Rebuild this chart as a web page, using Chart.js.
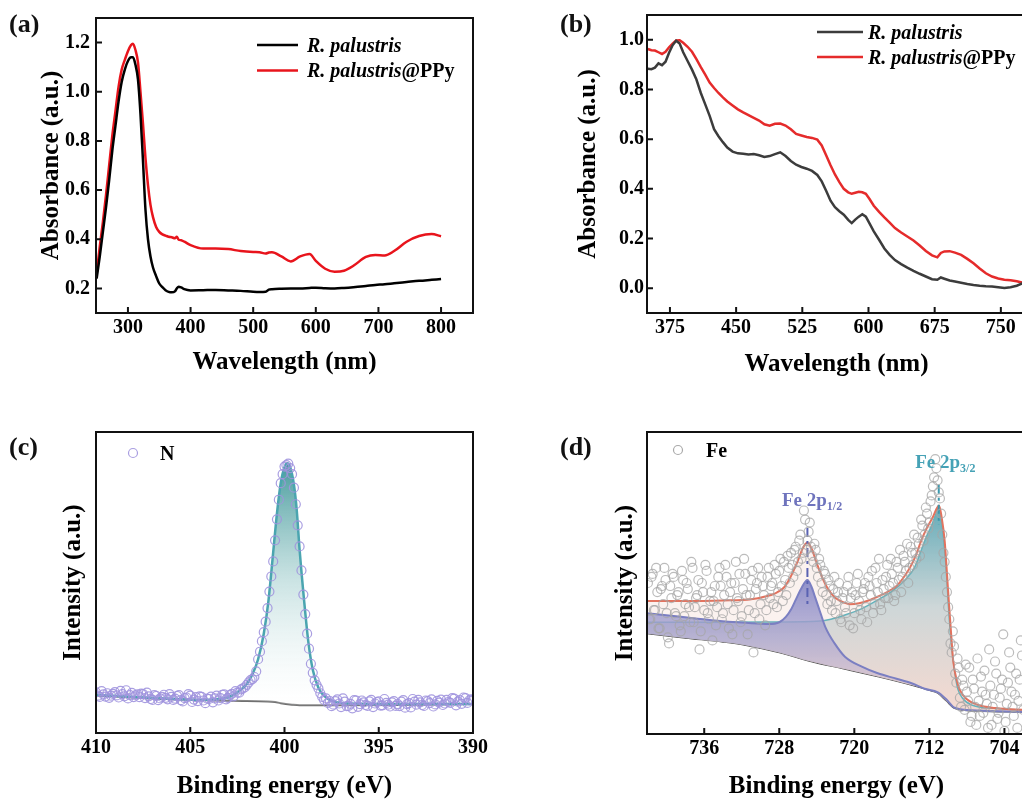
<!DOCTYPE html>
<html>
<head>
<meta charset="utf-8">
<script src="https://cdn.jsdelivr.net/npm/chart.js@4.4.1/dist/chart.umd.min.js"></script>
<style>
  body { margin: 0; width: 1022px; height: 803px; overflow: hidden; background: #fff; position: relative; font-family: "Liberation Serif", serif; }
  canvas { position: absolute; }
  .tag { position: absolute; font-weight: bold; font-size: 26px; line-height: 1; color: #111; }
</style>
</head>
<body>
<canvas id="graph-a" width="511" height="400" style="left:0;top:0"></canvas>
<canvas id="graph-b" width="525" height="400" style="left:511px;top:0"></canvas>
<canvas id="graph-c" width="511" height="403" style="left:0;top:400px"></canvas>
<canvas id="graph-d" width="525" height="403" style="left:511px;top:400px"></canvas>
<div class="tag" style="left:9px;top:11px">(a)</div>
<div class="tag" style="left:560px;top:11px">(b)</div>
<div class="tag" style="left:9px;top:434px">(c)</div>
<div class="tag" style="left:560px;top:434px">(d)</div>
<script>
// (a) UV-vis absorbance
const aWave = [250, 255, 260, 265, 270, 275, 280, 285, 290, 295, 300, 305, 308, 312, 316, 320, 324, 328, 332, 336,
  340, 345, 350, 355, 360, 365, 370, 375, 378, 381, 385, 390, 400, 420, 440, 460, 480, 500, 510, 520,
  525, 530, 545, 560, 575, 590, 600, 615, 630, 645, 660, 680, 695, 710, 725, 745, 765, 785, 800];
const aBare = [0.24, 0.33, 0.43, 0.53, 0.64, 0.76, 0.86, 0.96, 1.04, 1.09, 1.125, 1.14, 1.14, 1.11, 1.05, 0.91, 0.72, 0.52, 0.40, 0.33,
  0.285, 0.25, 0.22, 0.205, 0.193, 0.186, 0.184, 0.188, 0.2, 0.207, 0.204, 0.197, 0.192, 0.193, 0.194, 0.192, 0.19, 0.186, 0.185, 0.186,
  0.195, 0.197, 0.199, 0.2, 0.2, 0.202, 0.203, 0.201, 0.2, 0.202, 0.205, 0.21, 0.214, 0.217, 0.221, 0.226, 0.231, 0.235, 0.238];
const aPPy = [0.26, 0.37, 0.47, 0.58, 0.70, 0.82, 0.92, 1.02, 1.09, 1.13, 1.165, 1.19, 1.195, 1.17, 1.12, 1.0, 0.87, 0.73, 0.62, 0.54,
  0.49, 0.45, 0.43, 0.42, 0.415, 0.41, 0.408, 0.404, 0.41, 0.398, 0.396, 0.39, 0.376, 0.362, 0.362, 0.36, 0.352, 0.348, 0.347, 0.342,
  0.346, 0.347, 0.33, 0.31, 0.33, 0.34, 0.312, 0.28, 0.268, 0.272, 0.292, 0.328, 0.336, 0.334, 0.352, 0.39, 0.413, 0.421, 0.412];
const aXTicks = [300, 400, 500, 600, 700, 800];
const aYTicks = [0.2, 0.4, 0.6, 0.8, 1.0, 1.2];

// (b) normalised absorbance
const bWave = [350, 354, 358, 362, 366, 370, 374, 378, 382, 386, 390, 395, 400, 405, 410, 415, 420, 425, 430, 435,
  440, 446, 452, 458, 464, 470, 476, 482, 488, 494, 500, 506, 512, 518, 524, 530, 536, 542, 547, 552,
  557, 562, 567, 572, 577, 581, 585, 589, 593, 597, 601, 606, 612, 618, 624, 630, 637, 644, 651, 658,
  665, 672, 678, 682, 686, 692, 698, 705, 712, 719, 726, 733, 740, 747, 754, 761, 768, 775];
const bBare = [0.884, 0.882, 0.888, 0.905, 0.898, 0.912, 0.948, 0.978, 0.996, 0.985, 0.95, 0.915, 0.88, 0.84, 0.786, 0.74, 0.694, 0.64, 0.612, 0.588,
  0.566, 0.55, 0.543, 0.541, 0.538, 0.54, 0.535, 0.528, 0.532, 0.54, 0.547, 0.532, 0.512, 0.497, 0.488, 0.481, 0.472, 0.456, 0.43, 0.392,
  0.352, 0.326, 0.31, 0.296, 0.275, 0.262, 0.276, 0.288, 0.298, 0.288, 0.262, 0.229, 0.195, 0.16, 0.134, 0.113, 0.097, 0.083, 0.07, 0.058,
  0.047, 0.036, 0.034, 0.043, 0.038, 0.031, 0.027, 0.022, 0.017, 0.013, 0.01, 0.008, 0.007, 0.004, 0.001, 0.004, 0.01, 0.02];
const bPPy = [0.963, 0.958, 0.957, 0.95, 0.943, 0.952, 0.97, 0.985, 0.997, 0.998, 0.988, 0.972, 0.952, 0.922, 0.89, 0.86, 0.828, 0.806, 0.786, 0.768,
  0.752, 0.736, 0.72, 0.708, 0.697, 0.686, 0.675, 0.66, 0.654, 0.662, 0.663, 0.655, 0.64, 0.621, 0.615, 0.609, 0.605, 0.598, 0.575, 0.535,
  0.495, 0.458, 0.427, 0.4, 0.386, 0.38, 0.384, 0.388, 0.386, 0.38, 0.36, 0.332, 0.307, 0.285, 0.264, 0.242, 0.224, 0.208, 0.192, 0.172,
  0.15, 0.132, 0.124, 0.142, 0.148, 0.149, 0.143, 0.134, 0.118, 0.1, 0.079, 0.06, 0.047, 0.039, 0.034, 0.032, 0.028, 0.022];
const bXTicks = [375, 450, 525, 600, 675, 750];
const bYTicks = [0.0, 0.2, 0.4, 0.6, 0.8, 1.0];

// (c) N 1s
const nEnergy = [410, 409.8, 409.6, 409.4, 409.2, 409, 408.8, 408.6, 408.4, 408.2,
  408, 407.8, 407.6, 407.4, 407.2, 407, 406.8, 406.6, 406.4, 406.2,
  406, 405.8, 405.6, 405.4, 405.2, 405, 404.8, 404.6, 404.4, 404.2,
  404, 403.8, 403.6, 403.4, 403.2, 403, 402.8, 402.6, 402.4, 402.2,
  402, 401.8, 401.6, 401.4, 401.2, 401, 400.8, 400.6, 400.4, 400.2,
  400, 399.8, 399.6, 399.4, 399.2, 399, 398.8, 398.6, 398.4, 398.2,
  398, 397.8, 397.6, 397.4, 397.2, 397, 396.8, 396.6, 396.4, 396.2,
  396, 395.8, 395.6, 395.4, 395.2, 395, 394.8, 394.6, 394.4, 394.2,
  394, 393.8, 393.6, 393.4, 393.2, 393, 392.8, 392.6, 392.4, 392.2,
  392, 391.8, 391.6, 391.4, 391.2, 391, 390.8, 390.6, 390.4, 390.2, 390];
const nCounts = [13.5, 12.0, 12.8, 13.2, 12.4, 13.6, 11.8, 12.9, 14.2, 12.6,
  11.9, 12.8, 13.1, 11.6, 12.2, 11.0, 12.3, 11.5, 12.7, 11.2,
  12.0, 11.4, 12.6, 10.5, 11.8, 12.4, 11.1, 10.6, 12.0, 9.9,
  11.3, 10.2, 12.4, 11.6, 12.8, 11.7, 13.0, 13.9, 13.4, 14.8,
  16.0, 17.6, 18.6, 24.5, 30.5, 37.0, 47.0, 57.0, 71.0, 83.0,
  88.5, 89.5, 86.0, 76.0, 62.0, 46.0, 33.0, 23.0, 17.5, 14.8,
  12.0, 11.5, 10.6, 9.4, 11.2, 8.6, 10.4, 9.0, 8.2, 10.8,
  9.6, 10.2, 9.0, 11.0, 9.8, 10.5, 9.2, 10.0, 8.8, 10.6,
  9.6, 10.4, 8.4, 9.9, 11.3, 9.4, 10.2, 9.0, 10.6, 11.2,
  9.5, 10.1, 9.3, 11.0, 10.0, 11.4, 10.4, 9.7, 11.6, 10.8, 11.0];
const nEnergy2 = [409.9, 409.7, 409.5, 409.3, 409.1, 408.9, 408.7, 408.5, 408.3, 408.1,
  407.9, 407.7, 407.5, 407.3, 407.1, 406.9, 406.7, 406.5, 406.3, 406.1,
  405.9, 405.7, 405.5, 405.3, 405.1, 404.9, 404.7, 404.5, 404.3, 404.1,
  403.9, 403.7, 403.5, 403.3, 403.1, 402.9, 402.7, 402.5, 402.3, 402.1,
  401.9, 401.7, 401.5, 401.3, 401.1, 400.9, 400.7, 400.5, 400.3, 400.1,
  399.9, 399.7, 399.5, 399.3, 399.1, 398.9, 398.7, 398.5, 398.3, 398.1,
  397.9, 397.7, 397.5, 397.3, 397.1, 396.9, 396.7, 396.5, 396.3, 396.1,
  395.9, 395.7, 395.5, 395.3, 395.1, 394.9, 394.7, 394.5, 394.3, 394.1,
  393.9, 393.7, 393.5, 393.3, 393.1, 392.9, 392.7, 392.5, 392.3, 392.1,
  391.9, 391.7, 391.5, 391.3, 391.1, 390.9, 390.7, 390.5, 390.3, 390.1];
const nCounts2 = [12.4, 13.9, 12.1, 11.7, 13.0, 12.5, 14.0, 12.2, 11.5, 13.3,
  12.5, 11.9, 12.9, 13.4, 11.3, 12.6, 10.9, 12.0, 11.7, 12.9,
  11.0, 12.3, 10.9, 11.6, 12.9, 10.3, 11.9, 12.2, 10.8, 11.4,
  12.1, 11.5, 10.8, 12.7, 11.2, 12.6, 12.2, 13.4, 14.5, 15.2,
  16.8, 17.9, 20.5, 27.0, 33.5, 41.5, 52.0, 64.0, 77.5, 86.0,
  89.0, 88.0, 81.5, 69.0, 54.0, 39.5, 28.0, 20.0, 16.0, 13.2,
  11.0, 10.0, 8.9, 10.6, 9.8, 11.5, 8.9, 9.7, 10.9, 8.7,
  10.8, 9.3, 10.5, 8.6, 10.3, 9.1, 11.3, 9.4, 10.2, 9.0,
  8.9, 10.9, 9.6, 8.5, 10.4, 11.0, 9.3, 10.8, 9.9, 8.8,
  10.7, 11.1, 9.8, 10.3, 11.6, 9.2, 10.9, 11.8, 10.0, 11.2];
const nFit = [[410, 12.7], [408, 12.0], [406, 11.4], [404.5, 11.0], [403.6, 11.2], [403, 11.8], [402.5, 13.5], [402, 16.3],
  [401.7, 19.5], [401.4, 24.5], [401.1, 33], [400.85, 44], [400.6, 60], [400.4, 73], [400.2, 83], [400, 88.3], [399.85, 89.6],
  [399.7, 88.3], [399.5, 82.5], [399.35, 74], [399.2, 61], [398.96, 44], [398.73, 30], [398.5, 21], [398.2, 15], [397.9, 12.3],
  [397.4, 10.5], [396.5, 9.8], [394, 9.6], [390, 9.6]];
const nBase = [[410, 12.5], [406.25, 11.3], [402.7, 10.7], [400.9, 10.5], [400.5, 10.3], [400.2, 9.9], [399.6, 9.4],
  [399.2, 9.2], [397.4, 9.2], [393, 9.4], [390, 9.6]];
const cXTicks = [410, 405, 400, 395, 390];

// (d) Fe 2p
const feCounts = [[742, 50], [741.75, 38], [741.5, 53], [741.25, 41], [741, 47], [740.75, 35], [740.5, 49], [740.25, 55],
  [740, 40], [739.75, 30], [739.5, 45], [739.25, 52], [739, 39], [738.75, 47], [738.5, 34], [738.25, 51], [738, 43],
  [737.75, 48], [737.5, 37], [737.25, 55], [737, 42], [736.75, 46], [736.5, 28], [736.25, 50], [736, 41], [735.75, 54],
  [735.5, 38], [735.25, 47], [735, 44], [734.75, 36], [734.5, 52], [734.25, 49], [734, 40], [733.75, 56], [733.5, 43],
  [733.25, 47], [733, 33], [732.75, 50], [732.5, 45], [732.25, 53], [732, 39], [731.75, 58], [731.5, 46], [731.25, 41],
  [731, 51], [730.75, 27], [730.5, 48], [730.25, 55], [730, 43], [729.75, 49], [729.5, 36], [729.25, 52], [729, 45],
  [728.75, 50], [728.5, 56], [728.25, 42], [728, 54], [727.75, 49], [727.5, 57], [727.25, 46], [727, 55], [726.75, 60],
  [726.5, 52], [726.25, 62], [726, 57], [725.75, 66], [725.5, 60], [725.25, 71], [725, 64], [724.75, 70], [724.5, 59],
  [724.25, 63], [724, 55], [723.75, 58], [723.5, 50], [723.25, 54], [723, 46], [722.75, 51], [722.5, 44], [722.25, 48],
  [722, 40], [721.75, 47], [721.5, 38], [721.25, 45], [721, 42], [720.75, 49], [720.5, 36], [720.25, 47], [720, 40],
  [719.75, 50], [719.5, 44], [719.25, 38], [719, 48], [718.75, 42], [718.5, 52], [718.25, 46], [718, 40], [717.75, 55],
  [717.5, 47], [717.25, 43], [717, 51], [716.75, 45], [716.5, 56], [716.25, 49], [716, 53], [715.75, 44], [715.5, 57],
  [715.25, 51], [715, 47], [714.75, 59], [714.5, 54], [714.25, 50], [714, 62], [713.75, 56], [713.5, 60], [713.25, 65],
  [713, 59], [712.75, 69], [712.5, 66], [712.25, 73], [712, 70], [711.75, 79], [711.5, 85], [711.25, 88], [711, 80],
  [710.75, 73], [710.5, 60], [710.25, 52], [710, 42], [709.75, 30], [709.5, 34], [709.25, 20], [709, 25], [708.75, 12],
  [708.5, 18], [708.25, 8], [708, 14], [707.75, 22], [707.5, 6], [707.25, 15], [707, 3], [706.75, 11], [706.5, 19],
  [706.25, 7], [706, 13], [705.75, 2], [705.5, 16], [705.25, 9], [705, 24], [704.75, 5], [704.5, 12], [704.25, 18],
  [704, 1], [703.75, 10], [703.5, 27], [703.25, 14], [703, 6], [702.75, 20], [702.5, 11], [702.25, 31], [702, 8]];
const feCounts2 = [[741.875, 38], [741.625, 52], [741.375, 41], [741.125, 55], [740.875, 35], [740.625, 48], [740.375, 43],
  [740.125, 51], [739.875, 32], [739.625, 49], [739.375, 53], [739.125, 40], [738.875, 46], [738.625, 36], [738.375, 54],
  [738.125, 39], [737.875, 50], [737.625, 42], [737.375, 57], [737.125, 37], [736.875, 45], [736.625, 51], [736.375, 34],
  [736.125, 47], [735.875, 56], [735.625, 40], [735.375, 44], [735.125, 31], [734.875, 49], [734.625, 42], [734.375, 55],
  [734.125, 38], [733.875, 46], [733.625, 52], [733.375, 35], [733.125, 50], [732.875, 41], [732.625, 57], [732.375, 44],
  [732.125, 37], [731.875, 48], [731.625, 53], [731.375, 33], [731.125, 46], [730.875, 54], [730.625, 40], [730.375, 50],
  [730.125, 38], [729.875, 52], [729.625, 46], [729.375, 41], [729.125, 55], [728.875, 49], [728.625, 43], [728.375, 53],
  [728.125, 47], [727.875, 58], [727.625, 44], [727.375, 51], [727.125, 59], [726.875, 50], [726.625, 56], [726.375, 61],
  [726.125, 54], [725.875, 64], [725.625, 58], [725.375, 74], [725.125, 61], [724.875, 67], [724.625, 62], [724.375, 57],
  [724.125, 61], [723.875, 52], [723.625, 56], [723.375, 47], [723.125, 53], [722.875, 43], [722.625, 49], [722.375, 41],
  [722.125, 52], [721.875, 44], [721.625, 50], [721.375, 37], [721.125, 47], [720.875, 40], [720.625, 52], [720.375, 45],
  [720.125, 35], [719.875, 46], [719.625, 53], [719.375, 41], [719.125, 47], [718.875, 50], [718.625, 37], [718.375, 49],
  [718.125, 54], [717.875, 43], [717.625, 50], [717.375, 58], [717.125, 41], [716.875, 48], [716.625, 52], [716.375, 45],
  [716.125, 58], [715.875, 50], [715.625, 46], [715.375, 55], [715.125, 61], [714.875, 52], [714.625, 57], [714.375, 63],
  [714.125, 55], [713.875, 60], [713.625, 66], [713.375, 58], [713.125, 63], [712.875, 71], [712.625, 64], [712.375, 75],
  [712.125, 68], [711.875, 77], [711.625, 82], [711.375, 91], [711.125, 84], [710.875, 78], [710.625, 66], [710.375, 57],
  [710.125, 47], [709.875, 38], [709.625, 27], [709.375, 29], [709.125, 17], [708.875, 22], [708.625, 9], [708.375, 16],
  [708.125, 23], [707.875, 11], [707.625, 4], [707.375, 18], [707.125, 9], [706.875, 25], [706.625, 6], [706.375, 14],
  [706.125, 21], [705.875, 10], [705.625, 28], [705.375, 3], [705.125, 13], [704.875, 20], [704.625, 7], [704.375, 15],
  [704.125, 33], [703.875, 4], [703.625, 17], [703.375, 22], [703.125, 9], [702.875, 13], [702.625, 2], [702.375, 18],
  [702.125, 26]];
const feEnvelope = [[742.1, 44], [738, 44], [734, 44.2], [731, 44.6], [729.5, 45.5], [728.5, 46.5], [727.5, 48.5],
  [726.8, 52], [726, 57.5], [725.5, 61.5], [725, 63.4], [724.5, 61], [724, 56.5], [723.3, 51], [722.8, 48], [722, 45],
  [721, 43.4], [720.5, 43], [719.5, 43.3], [718.5, 44.2], [717.5, 45.5], [716.5, 47], [715.5, 49], [714.6, 52.5],
  [714, 55.5], [713.4, 59.5], [712.85, 64.2], [712.3, 68], [711.6, 72], [711.25, 74.5], [710.97, 75.7], [710.7, 72],
  [710.37, 64], [710.1, 52], [709.94, 44.4], [709.7, 34], [709.47, 24.5], [709.1, 18], [708.76, 14.6], [708, 11.5],
  [706.8, 9.6], [705, 8.6], [701.7, 7.9]];
const feP32 = [[742.1, 37], [735, 37], [728, 37.1], [724, 37.3], [722.5, 38], [721, 39.4], [719.2, 41.5], [717.5, 44.4],
  [716, 47.2], [714.6, 51], [713.6, 55], [712.85, 61], [712.3, 65.5], [711.8, 68.8], [711.35, 72.5], [710.97, 75.5],
  [710.7, 70], [710.37, 61], [710.15, 52], [710, 44], [709.75, 33], [709.47, 24.5], [709.2, 18.5], [708.97, 15],
  [708.5, 12], [707.5, 9.6], [705, 8.5], [701.7, 7.8]];
const feP12 = [[742.1, 40], [738.5, 38.8], [735.2, 37.7], [731.5, 36.8], [729.15, 36.4], [728, 37], [727.3, 38.8],
  [726.7, 41.5], [726.25, 44.4], [725.6, 48.5], [725, 51], [724.6, 49], [724.2, 45.5], [723.6, 40], [723.1, 35.5],
  [722.1, 30], [721, 25.6], [719.2, 22.3], [717.5, 20.1], [715.5, 18.3], [713.9, 16.8], [712.5, 15], [711.1, 13.8],
  [710.2, 11.5], [709.3, 8.7], [707, 7.8], [701.7, 7.3]];
const feBackground = [[742.1, 33.3], [738, 31.8], [734, 30.5], [731.7, 29.5], [728, 27], [724.6, 24], [721, 21.5],
  [717.5, 19], [714, 16.3], [711.8, 14.3], [711.1, 13.5], [710.2, 11], [709.3, 8.5], [707, 7.6], [701.7, 7.3]];
const feMarks = { p12: [[725, 68.2], [725, 42.7]], p32: [[711, 82.5], [711, 69.2]] };
const dXTicks = [736, 728, 720, 712, 704];

Chart.defaults.font.family = '"Liberation Serif", "Times New Roman", serif';
Chart.defaults.color = "#000";
Chart.defaults.animation = false;

const pts = (xs, ys) => xs.map((x, i) => ({ x: x, y: ys[i] }));
const pairs = (list) => list.map((p) => ({ x: p[0], y: p[1] }));

// box round the plot plus inward tick marks
const frame = (yTicks) => ({
  id: "frame",
  afterDraw(chart) {
    const { ctx, chartArea: a, scales } = chart;
    ctx.save();
    ctx.strokeStyle = "#111";
    ctx.lineWidth = 2;
    ctx.beginPath();
    scales.x.ticks.forEach((t) => {
      const px = scales.x.getPixelForValue(t.value);
      ctx.moveTo(px, a.bottom);
      ctx.lineTo(px, a.bottom - 6);
    });
    if (yTicks) {
      scales.y.ticks.forEach((t) => {
        const py = scales.y.getPixelForValue(t.value);
        ctx.moveTo(a.left, py);
        ctx.lineTo(a.left + 6, py);
      });
    }
    ctx.stroke();
    ctx.strokeRect(a.left, a.top, a.right - a.left, a.bottom - a.top);
    ctx.restore();
  },
});

// legend entries and peak labels (mixed italic / subscript text)
const notes = (items) => ({
  id: "notes",
  afterDatasetsDraw(chart) {
    const { ctx, scales } = chart;
    ctx.save();
    items.forEach((it) => {
      let x = it.x, y = it.y;
      if (it.at) {
        x = scales.x.getPixelForValue(it.at[0]);
        y = scales.y.getPixelForValue(it.at[1]);
      }
      if (it.line) {
        ctx.strokeStyle = it.line;
        ctx.lineWidth = 2.5;
        ctx.beginPath();
        ctx.moveTo(it.x0, y);
        ctx.lineTo(it.x1, y);
        ctx.stroke();
      }
      if (it.ring) {
        ctx.strokeStyle = it.ring;
        ctx.lineWidth = 1.2;
        ctx.beginPath();
        ctx.arc(it.x0, y, 4.5, 0, Math.PI * 2);
        ctx.stroke();
      }
      const font = (p) => (p.it ? "italic " : "") + "bold " + (p.s || 20) + 'px "Liberation Serif"';
      let w = 0;
      it.parts.forEach((p) => { ctx.font = font(p); w += ctx.measureText(p.t).width; });
      let cx = it.center ? x - w / 2 : x;
      const base = y + (it.s || 20) * 0.33;
      ctx.fillStyle = it.color || "#000";
      ctx.textBaseline = "alphabetic";
      ctx.textAlign = "left";
      it.parts.forEach((p) => {
        ctx.font = font(p);
        ctx.fillText(p.t, cx, base + (p.sub ? 4 : 0));
        cx += ctx.measureText(p.t).width;
      });
    });
    ctx.restore();
  },
});

function vGrad(chart, top, bottom, stops) {
  const { ctx, chartArea, scales } = chart;
  if (!chartArea) return "rgba(0,0,0,0)";
  const g = ctx.createLinearGradient(0, scales.y.getPixelForValue(top), 0, scales.y.getPixelForValue(bottom));
  stops.forEach((s) => g.addColorStop(s[0], s[1]));
  return g;
}

const tickFont = { size: 20, weight: "bold" };
const titleFont = { size: 25, weight: "bold" };
const useTicks = (list) => (s) => { s.ticks = list.map((v) => ({ value: v })); };

function axes(o) {
  return {
    x: {
      type: "linear", min: o.xmin, max: o.xmax, reverse: !!o.rev,
      grid: { display: false, drawTicks: false }, border: { display: false },
      afterBuildTicks: useTicks(o.xticks),
      ticks: { font: tickFont, padding: 3, maxRotation: 0, autoSkip: false },
      title: { display: true, text: o.xtitle, font: titleFont, padding: { top: 0, bottom: o.xtp } },
      afterFit: (s) => { s.height = o.xh; },
    },
    y: {
      min: o.ymin, max: o.ymax,
      grid: { display: false, drawTicks: false }, border: { display: false },
      afterBuildTicks: o.yticks ? useTicks(o.yticks) : undefined,
      ticks: {
        display: !!o.yticks, font: tickFont, padding: o.ypad || 6,
        callback: (v) => v.toFixed(1),
      },
      title: { display: true, text: o.ytitle, font: titleFont, padding: { top: o.ytp, bottom: 0 } },
      afterFit: (s) => { s.width = o.yw; },
    },
  };
}

const lineSet = (label, data, color, width, extra) => Object.assign({
  label: label, data: data, borderColor: color, borderWidth: width, pointRadius: 0,
  fill: false, cubicInterpolationMode: "monotone",
}, extra || {});

// (a)
new Chart(document.getElementById("graph-a").getContext("2d"), {
  type: "line",
  data: {
    datasets: [
      lineSet("R. palustris", pts(aWave, aBare), "#000", 2.5),
      lineSet("R. palustris@PPy", pts(aWave, aPPy), "#e8141c", 2.5),
    ],
  },
  options: {
    responsive: false, events: [],
    layout: { padding: { left: 0, right: 38, top: 10, bottom: 0 } },
    scales: axes({ xmin: 249, xmax: 851, xticks: aXTicks, xtitle: "Wavelength (nm)", xh: 87, xtp: 22,
      ymin: 0.1, ymax: 1.3, yticks: aYTicks, ytitle: "Absorbance (a.u.)", yw: 96, ytp: 37, ypad: 6 }),
    plugins: { legend: { display: false }, tooltip: { enabled: false } },
  },
  plugins: [frame(true), notes([
    { line: "#000", x0: 257, x1: 298, x: 307, y: 45, parts: [{ t: "R. palustris", it: true }] },
    { line: "#e8141c", x0: 257, x1: 298, x: 307, y: 70.5, parts: [{ t: "R. palustris", it: true }, { t: "@PPy" }] },
  ])],
});

// (b)
new Chart(document.getElementById("graph-b").getContext("2d"), {
  type: "line",
  data: {
    datasets: [
      lineSet("R. palustris", pts(bWave, bBare), "#3c3c3c", 2.5, { cubicInterpolationMode: "default", tension: 0 }),
      lineSet("R. palustris@PPy", pts(bWave, bPPy), "#e52b2b", 2.5, { cubicInterpolationMode: "default", tension: 0 }),
    ],
  },
  options: {
    responsive: false, events: [],
    layout: { padding: { left: 0, right: 10, top: 10, bottom: 0 } },
    scales: axes({ xmin: 349, xmax: 778.5, xticks: bXTicks, xtitle: "Wavelength (nm)", xh: 87, xtp: 20,
      ymin: -0.1, ymax: 1.1, yticks: bYTicks, ytitle: "Absorbance (a.u.)", yw: 136, ytp: 63, ypad: 3 }),
    plugins: { legend: { display: false }, tooltip: { enabled: false } },
  },
  plugins: [frame(true), notes([
    { line: "#3c3c3c", x0: 306, x1: 352, x: 357, y: 32, parts: [{ t: "R. palustris", it: true }] },
    { line: "#e52b2b", x0: 306, x1: 352, x: 357, y: 57, parts: [{ t: "R. palustris", it: true }, { t: "@PPy" }] },
  ])],
});

// (c)
new Chart(document.getElementById("graph-c").getContext("2d"), {
  type: "line",
  data: {
    datasets: [
      { label: "N", data: pts(nEnergy, nCounts).concat(pts(nEnergy2, nCounts2)), showLine: false,
        pointRadius: 4.5, pointBorderWidth: 1.2,
        pointBorderColor: "rgba(160,148,222,0.9)", pointBackgroundColor: "rgba(255,255,255,0)" },
      lineSet("fit", pairs(nFit), "#4aa5b0", 2.5, {
        fill: 2,
        backgroundColor: (c) => vGrad(c.chart, 90, 10, [[0, "rgba(58,148,150,0.95)"], [0.5, "rgba(170,210,210,0.6)"], [1, "rgba(255,255,255,0.2)"]]),
      }),
      lineSet("baseline", pairs(nBase), "#707070", 2),
    ],
  },
  options: {
    responsive: false, events: [],
    layout: { padding: { left: 0, right: 38, top: 32, bottom: 0 } },
    scales: axes({ xmin: 390, xmax: 410, rev: true, xticks: cXTicks, xtitle: "Binding energy (eV)", xh: 70, xtp: 1,
      ymin: 0, ymax: 100, ytitle: "Intensity (a.u.)", yw: 96, ytp: 59 }),
    plugins: { legend: { display: false }, tooltip: { enabled: false } },
  },
  plugins: [frame(false), notes([
    { ring: "rgba(160,148,222,0.9)", x0: 133, x: 160, y: 53, parts: [{ t: "N" }] },
  ])],
});

// (d)
new Chart(document.getElementById("graph-d").getContext("2d"), {
  type: "line",
  data: {
    datasets: [
      { label: "Fe", data: pairs(feCounts.concat(feCounts2)), showLine: false, pointRadius: 4.5, pointBorderWidth: 1.2,
        pointBorderColor: "rgba(165,165,165,0.75)", pointBackgroundColor: "rgba(255,255,255,0)" },
      lineSet("p12 mark", pairs(feMarks.p12), "#5a62b2", 2, { borderDash: [9, 4, 3, 4], cubicInterpolationMode: "default" }),
      lineSet("p32 mark", pairs(feMarks.p32), "#3a98ad", 2, { borderDash: [9, 4, 3, 4], cubicInterpolationMode: "default" }),
      lineSet("envelope", pairs(feEnvelope), "#e2735f", 2),
      lineSet("Fe 2p1/2", pairs(feP12), "#7b7fc2", 2, {
        fill: 7,
        backgroundColor: (c) => vGrad(c.chart, 51, 8, [[0, "rgba(132,134,198,0.9)"], [0.45, "rgba(172,166,208,0.75)"], [1, "rgba(232,202,206,0.6)"]]),
      }),
      lineSet("Fe 2p3/2", pairs(feP32), "#66b2bb", 1.5, {
        fill: 7,
        backgroundColor: (c) => vGrad(c.chart, 76, 8, [[0, "rgba(88,166,180,0.95)"], [0.5, "rgba(198,210,212,0.85)"], [1, "rgba(244,213,203,0.85)"]]),
      }),
      lineSet("envelope fill", pairs(feEnvelope), "rgba(0,0,0,0)", 0, {
        fill: 7, backgroundColor: "rgba(248,230,224,0.5)",
      }),
      lineSet("background", pairs(feBackground), "#4d4d4d", 1.5),
    ],
  },
  options: {
    responsive: false, events: [],
    layout: { padding: { left: 0, right: 10, top: 32, bottom: 0 } },
    scales: axes({ xmin: 701.7, xmax: 742.1, rev: true, xticks: dXTicks, xtitle: "Binding energy (eV)", xh: 69, xtp: 1,
      ymin: 0, ymax: 100, ytitle: "Intensity (a.u.)", yw: 136, ytp: 100 }),
    plugins: { legend: { display: false }, tooltip: { enabled: false } },
  },
  plugins: [frame(false), notes([
    { ring: "rgba(160,160,160,0.9)", x0: 167, x: 195, y: 50, parts: [{ t: "Fe" }] },
    { at: [724.5, 77.5], center: true, color: "#6f74bd", s: 19, parts: [{ t: "Fe 2p", s: 19 }, { t: "1/2", s: 12, sub: true }] },
    { at: [710.3, 90], center: true, color: "#46a2b6", s: 19, parts: [{ t: "Fe 2p", s: 19 }, { t: "3/2", s: 12, sub: true }] },
  ])],
});
</script>
</body>
</html>
